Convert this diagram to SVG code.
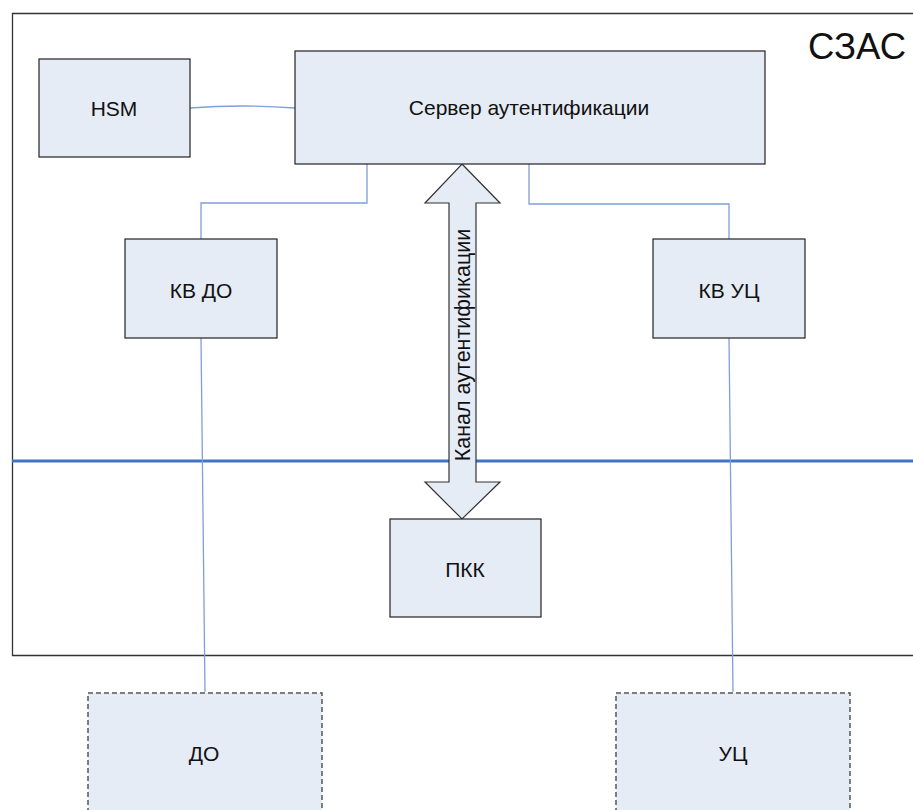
<svg xmlns="http://www.w3.org/2000/svg" width="913" height="810" viewBox="0 0 913 810">
<style>
.box{fill:#E6ECF6;stroke:#222;stroke-width:1.2}
.dbox{fill:#E6ECF6;stroke:#555;stroke-width:1.5;stroke-dasharray:5 3}
.lbl{font-family:"Liberation Sans",Arial,sans-serif;font-size:21px;fill:#111;text-anchor:middle;dominant-baseline:central}
.con{fill:none;stroke:#7EA0D6;stroke-width:1.3}
</style>
<rect width="913" height="810" fill="#fff"/>
<g id="frame">
<path d="M930 13.5 H12.5 V655.5 H930" fill="none" stroke="#333" stroke-width="1.3"/>
<text x="906" y="46" font-family="'Liberation Sans',Arial,sans-serif" font-size="36.5" text-anchor="end" dominant-baseline="central" fill="#111">СЗАС</text>
</g>
<line x1="12" y1="461" x2="913" y2="461" stroke="#4472C4" stroke-width="3"/>
<g id="connectors">
<path class="con" d="M190 108 Q242 104 295 108"/>
<path class="con" d="M367 164 V203 H201 V239"/>
<path class="con" d="M529 164 V204 H729 V239"/>
<path class="con" d="M201 338 L205 692"/>
<path class="con" d="M729 338 L733 692"/>
</g>
<g id="channel">
<polygon points="462,164 500,203 476,203 476,482 500,482 462,519 425,482 449,482 449,203 425,203" fill="#E6ECF6" stroke="#333" stroke-width="1.2"/>
<text class="lbl" style="font-size:21.5px" transform="translate(463,345) rotate(-90)">Канал аутентификации</text>
</g>
<g id="hsm"><rect class="box" x="39" y="59" width="151" height="98"/><text class="lbl" x="114" y="108">HSM</text></g>
<g id="server"><rect class="box" x="295" y="51" width="470" height="113"/><text class="lbl" x="529" y="107">Сервер аутентификации</text></g>
<g id="kvdo"><rect class="box" x="125" y="239" width="152" height="99"/><text class="lbl" x="201" y="290">КВ ДО</text></g>
<g id="kvuc"><rect class="box" x="653" y="239" width="152" height="99"/><text class="lbl" x="729" y="290">КВ УЦ</text></g>
<g id="pkk"><rect class="box" x="390" y="519" width="151" height="98"/><text class="lbl" x="465" y="569">ПКК</text></g>
<g id="do"><rect class="dbox" x="88" y="693" width="234" height="130"/><text class="lbl" x="204" y="753">ДО</text></g>
<g id="uc"><rect class="dbox" x="616" y="693" width="234" height="130"/><text class="lbl" x="733" y="753">УЦ</text></g>
</svg>
